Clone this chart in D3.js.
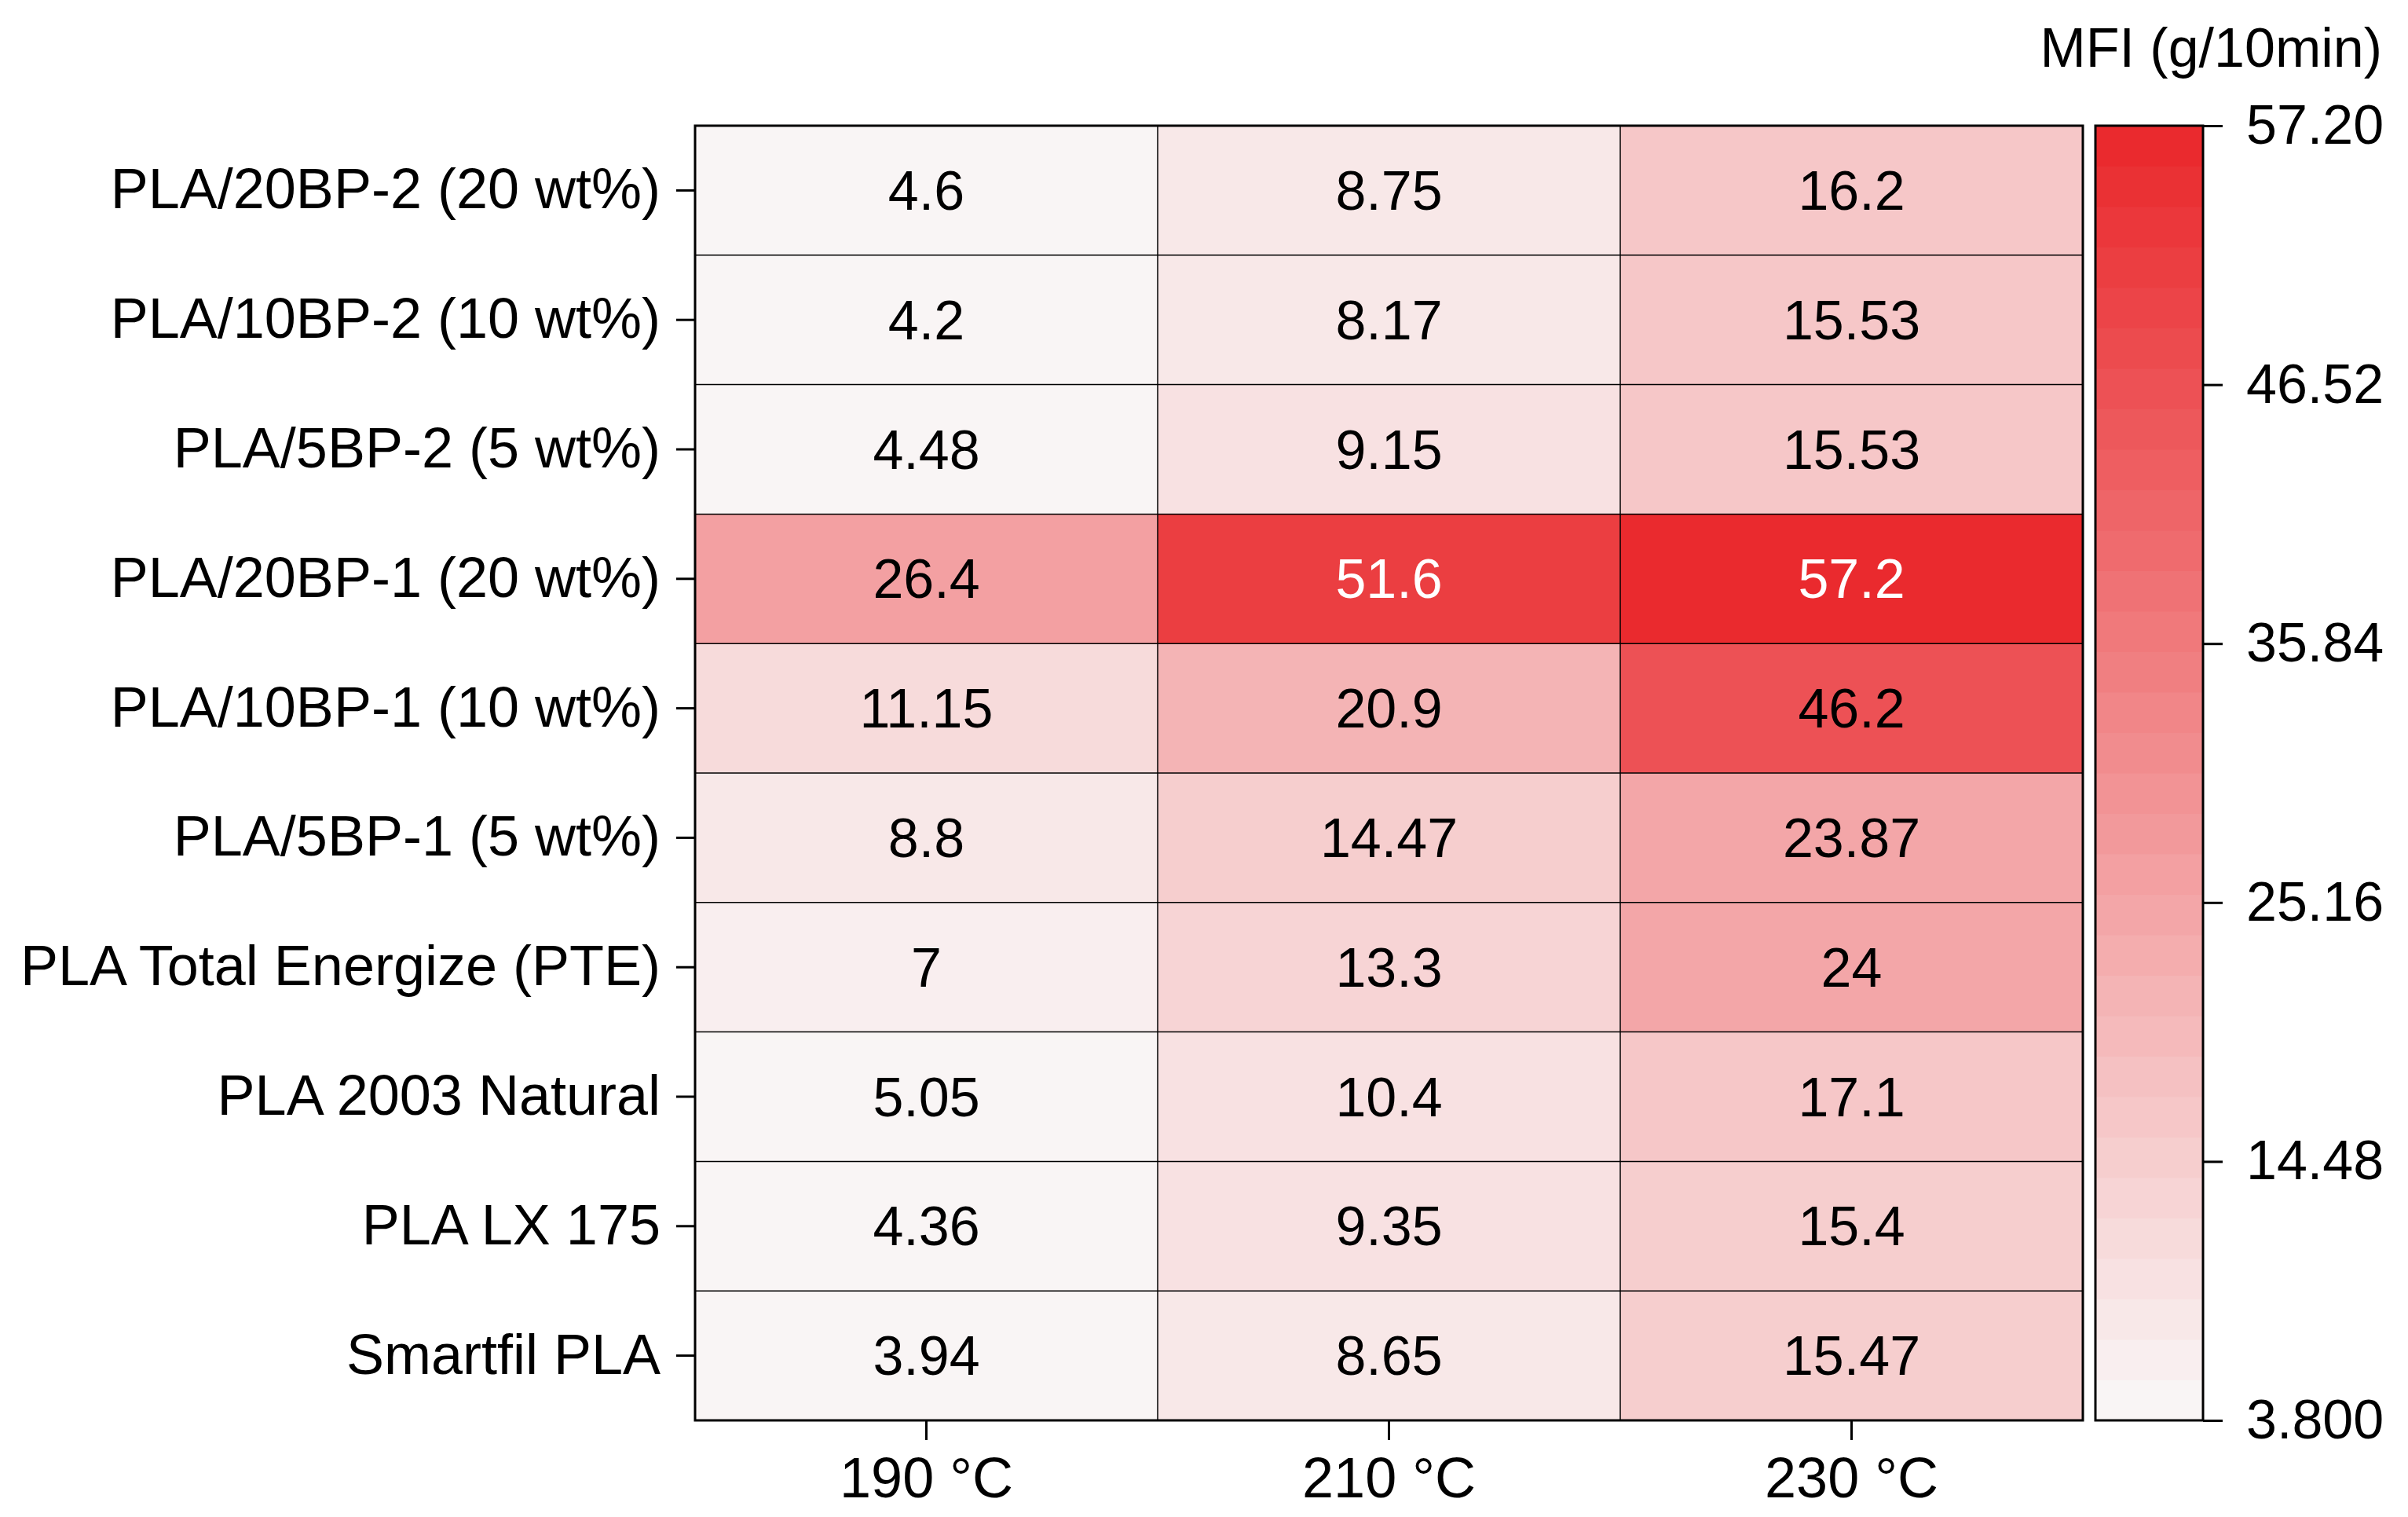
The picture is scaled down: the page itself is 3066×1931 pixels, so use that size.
<!DOCTYPE html>
<html>
<head>
<meta charset="utf-8">
<script src="https://cdn.jsdelivr.net/npm/d3@7.9.0/dist/d3.min.js"></script>
<style>
  body { margin: 0; background: #fff; }
  svg { font-family: "Liberation Sans", Arial, sans-serif; }
</style>
</head>
<body>
<svg id="chart" width="3066" height="1931"></svg>
<script>
// rows top to bottom
const samples = [
  'PLA/20BP-2 (20 wt%)',
  'PLA/10BP-2 (10 wt%)',
  'PLA/5BP-2 (5 wt%)',
  'PLA/20BP-1 (20 wt%)',
  'PLA/10BP-1 (10 wt%)',
  'PLA/5BP-1 (5 wt%)',
  'PLA Total Energize (PTE)',
  'PLA 2003 Natural',
  'PLA LX 175',
  'Smartfil PLA'
];
const temps = ['190 °C', '210 °C', '230 °C'];

// MFI per sample, one value per temperature
const mfi190 = [4.6, 4.2, 4.48, 26.4, 11.15, 8.8, 7, 5.05, 4.36, 3.94];
const mfi210 = [8.75, 8.17, 9.15, 51.6, 20.9, 14.47, 13.3, 10.4, 9.35, 8.65];
const mfi230 = [16.2, 15.53, 15.53, 57.2, 46.2, 23.87, 24, 17.1, 15.4, 15.47];

const colorTicks = [3.8, 14.48, 25.16, 35.84, 46.52, 57.2];
const colorMin = 3.8, colorMax = 57.2;
const levels = 32;

const svg = d3.select('#chart');

const pLeft = 885, pRight = 2652, pTop = 160, pBottom = 1808;

const x = d3.scaleBand().domain(temps).range([pLeft, pRight]);
const y = d3.scaleBand().domain(samples).range([pTop, pBottom]);

const palette = d3.quantize(d3.interpolateRgb('#f9f5f5', '#ea2a2e'), levels);
const color = d3.scaleQuantize().domain([colorMin, colorMax]).range(palette);

const cells = [];
[mfi190, mfi210, mfi230].forEach((col, j) => {
  col.forEach((v, i) => cells.push({ row: samples[i], temp: temps[j], value: v }));
});

// cells
svg.append('g')
  .selectAll('rect')
  .data(cells)
  .join('rect')
  .attr('x', d => x(d.temp))
  .attr('y', d => y(d.row))
  .attr('width', x.bandwidth())
  .attr('height', y.bandwidth())
  .attr('fill', d => color(d.value));

// grid lines
const grid = svg.append('g').attr('stroke', '#000').attr('stroke-width', 1.5);
temps.slice(1).forEach(t => {
  grid.append('line').attr('x1', x(t)).attr('x2', x(t)).attr('y1', pTop).attr('y2', pBottom);
});
samples.slice(1).forEach(s => {
  grid.append('line').attr('x1', pLeft).attr('x2', pRight).attr('y1', y(s)).attr('y2', y(s));
});

// values
svg.append('g')
  .selectAll('text')
  .data(cells)
  .join('text')
  .attr('x', d => x(d.temp) + x.bandwidth() / 2)
  .attr('y', d => y(d.row) + y.bandwidth() / 2)
  .attr('dy', '0.35em')
  .attr('text-anchor', 'middle')
  .attr('font-size', 70)
  .attr('fill', d => d.value >= 50 ? '#fff' : '#000')
  .text(d => d.value);

// frame
svg.append('rect')
  .attr('x', pLeft).attr('y', pTop)
  .attr('width', pRight - pLeft).attr('height', pBottom - pTop)
  .attr('fill', 'none').attr('stroke', '#000').attr('stroke-width', 3);

// axes
const yAxis = svg.append('g')
  .attr('transform', `translate(${pLeft},0)`)
  .call(d3.axisLeft(y).tickSize(24).tickPadding(20));
const xAxis = svg.append('g')
  .attr('transform', `translate(0,${pBottom})`)
  .call(d3.axisBottom(x).tickSize(25).tickPadding(22));
[yAxis, xAxis].forEach(a => {
  a.select('.domain').remove();
  a.selectAll('line').attr('stroke-width', 3);
  a.selectAll('text').attr('font-size', 72).attr('font-family', null).attr('fill', '#000');
});

// color bar
const cbLeft = 2668, cbRight = 2805;
const cy = d3.scaleLinear().domain([colorMin, colorMax]).range([pBottom, pTop]);
const step = (colorMax - colorMin) / levels;

svg.append('g')
  .selectAll('rect')
  .data(palette)
  .join('rect')
  .attr('x', cbLeft)
  .attr('width', cbRight - cbLeft)
  .attr('y', (d, i) => cy(colorMin + step * (i + 1)))
  .attr('height', (d, i) => cy(colorMin + step * i) - cy(colorMin + step * (i + 1)) + 0.5)
  .attr('fill', d => d);

svg.append('rect')
  .attr('x', cbLeft).attr('y', pTop)
  .attr('width', cbRight - cbLeft).attr('height', pBottom - pTop)
  .attr('fill', 'none').attr('stroke', '#000').attr('stroke-width', 3);

const cAxis = svg.append('g')
  .attr('transform', `translate(${cbRight},0)`)
  .call(d3.axisRight(cy).tickValues(colorTicks).tickFormat(d3.format('.4g')).tickSize(25).tickPadding(30));
cAxis.select('.domain').remove();
cAxis.selectAll('line').attr('stroke-width', 3);
cAxis.selectAll('text').attr('font-size', 70).attr('font-family', null).attr('fill', '#000');

svg.append('text')
  .attr('x', 3033)
  .attr('y', 85)
  .attr('text-anchor', 'end')
  .attr('font-size', 70)
  .text('MFI (g/10min)');
</script>
</body>
</html>
